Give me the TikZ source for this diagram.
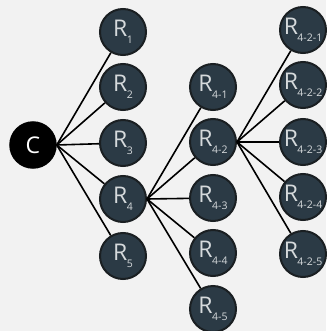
\documentclass[tikz,border=0pt]{standalone}
\usepackage{fontspec}
\setmainfont{Open Sans}
\usepackage{xcolor}
\usepackage{tikz}
\usetikzlibrary{positioning}
\definecolor{bgGray}{HTML}{F2F2F2}
\definecolor{nodeFill}{HTML}{2B3A45}
\definecolor{nodeRim}{HTML}{1A1F22}
\definecolor{nodeText}{HTML}{D6DADC}
\newcommand{\rlab}[1]{R\kern-0.5pt\raisebox{-0.55ex}{\fontsize{10.5}{10.5}\selectfont #1}}

\begin{document}
\begin{tikzpicture}
  [
    x=1pt, y=-1pt,
    Root/.style={circle, draw=black, fill=black, line width=1.5pt, minimum size=46pt, inner sep=0pt, text=white, font=\fontsize{23}{23}\selectfont},
    Leaf/.style={circle, draw=nodeRim, fill=nodeFill, line width=2pt, minimum size=46pt, inner sep=0pt, text=nodeText, font=\fontsize{23}{23}\selectfont},
    Link/.style={draw, black, line width=1.6pt}
  ]
  \fill[bgGray] (0,0) rectangle (326,331);
  \useasboundingbox (0,0) rectangle (326,331);

  % Nodes
  \node[Root] (C) at(33, 145) {C};

  \node[Leaf] (R1) at(123, 32) {\rlab{1}};
  \node[Leaf] (R2) at(123, 87) {\rlab{2}};
  \node[Leaf] (R3) at(123, 143) {\rlab{3}};
  \node[Leaf] (R4) at(123, 199) {\rlab{4}};
  \node[Leaf] (R5) at(123, 256) {\rlab{5}};

  \node[Leaf] (R41) at(213, 87) {\rlab{4-1}};
  \node[Leaf] (R42) at(213, 142) {\rlab{4-2}};
  \node[Leaf] (R43) at(213, 198) {\rlab{4-3}};
  \node[Leaf] (R44) at(213, 253) {\rlab{4-4}};
  \node[Leaf] (R45) at(213, 309) {\rlab{4-5}};

  \node[Leaf] (R421) at(303, 30) {\rlab{4-2-1}};
  \node[Leaf] (R422) at(303, 85) {\rlab{4-2-2}};
  \node[Leaf] (R423) at(303, 142) {\rlab{4-2-3}};
  \node[Leaf] (R424) at(303, 197) {\rlab{4-2-4}};
  \node[Leaf] (R425) at(303, 254) {\rlab{4-2-5}};

  % Lines
  \path [Link] (C.east) -- (R1);
  \path [Link] (C.east) -- (R2);
  \path [Link] (C.east) -- (R3);
  \path [Link] (C.east) -- (R4);
  \path [Link] (C.east) -- (R5);

  \path [Link] (R4.east) -- (R41);
  \path [Link] (R4.east) -- (R42);
  \path [Link] (R4.east) -- (R43);
  \path [Link] (R4.east) -- (R44);
  \path [Link] (R4.east) -- (R45);

  \path [Link] (R42.east) -- (R421);
  \path [Link] (R42.east) -- (R422);
  \path [Link] (R42.east) -- (R423);
  \path [Link] (R42.east) -- (R424);
  \path [Link] (R42.east) -- (R425);

\end{tikzpicture}
\end{document}
